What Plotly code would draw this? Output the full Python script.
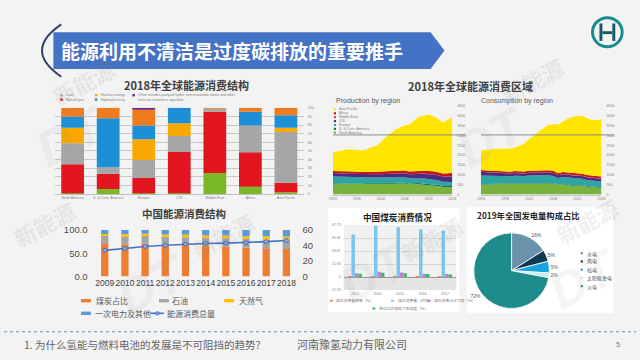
import plotly.graph_objects as go

W, H = 640, 360
def X(px): return px / W
def Y(py): return 1 - py / H
CJK = "Noto Sans CJK SC"
LAT = "Liberation Sans"

# ---------------- data ----------------
# 2018 global energy structure by region (%), bottom -> top
gl_regions = ["North America", "S. & Cent. America", "Europe", "CIS", "Middle East", "Africa", "Asia Pacific"]
gl_oil   = [1.0, 6.0, 1.0, 1.0, 24.3, 8.6, 2.0]
gl_gas   = [33.7, 17.5, 17.7, 47.9, 71.2, 39.9, 11.0]
gl_coal  = [24.3, 7.5, 20.9, 18.3, 3.5, 31.0, 59.0]
gl_nuc   = [17.9, 0.0, 23.8, 14.9, 0.0, 0.0, 4.9]
gl_hydro = [13.0, 57.0, 16.1, 17.9, 0.0, 16.0, 14.5]
gl_renew = [10.1, 12.0, 18.6, 0.0, 1.0, 4.5, 8.6]
gl_other = [0.0, 0.0, 1.9, 0.0, 0.0, 0.0, 0.0]

# Production / consumption by region, 1993-2018
area_years = list(range(1993, 2019))
area_tick_years = [1993, 1998, 2003, 2008, 2013, 2018]
p_na  = [520,530,540,545,550,555,545,540,550,540,535,545,550,555,555,560,520,525,530,495,480,480,440,380,385,380]
p_sca = [20,20,22,24,26,28,28,30,32,34,35,38,40,42,44,45,44,48,52,55,56,55,52,50,50,52]
p_eur = [380,360,350,345,335,320,300,290,295,290,290,285,280,275,275,270,260,255,265,265,250,240,235,215,210,200]
p_cis = [170,155,150,145,145,140,145,155,160,160,170,175,185,195,195,205,200,215,230,245,250,255,255,265,275,290]
p_me  = [2]*26
p_afr = [105,110,115,115,120,125,125,127,130,130,135,140,142,143,142,143,145,147,145,150,153,155,152,155,160,165]
p_ap  = [953,1023,1071,1104,1102,1080,1085,1126,1231,1294,1483,1715,1901,2068,2187,2275,2379,2558,2726,2788,2859,2793,2714,2583,2718,2831]

c_na  = [500,510,515,530,540,545,540,560,540,545,560,565,570,560,565,555,495,520,490,440,455,455,400,365,355,335]
c_sca = [18,19,20,21,22,22,22,23,23,23,24,25,26,27,28,29,28,30,32,33,34,35,34,33,33,33]
c_eur = [450,430,420,420,405,390,370,375,375,370,380,380,370,375,380,360,320,335,345,340,330,310,305,300,300,290]
c_cis = [190,170,160,150,140,135,135,135,135,135,140,140,140,140,140,145,130,140,150,155,150,145,140,145,145,150]
c_me  = [5,5,5,6,6,6,6,7,7,7,7,8,8,8,9,9,9,9,9,10,10,10,10,10,10,10]
c_afr = [80,82,84,86,88,88,88,90,92,95,98,100,102,104,106,108,105,106,100,100,102,104,100,98,100,102]
c_ap  = [1007,1044,1086,1107,1139,1144,1174,1190,1298,1425,1591,1782,2004,2166,2302,2364,2473,2560,2714,2852,2909,2931,2881,2829,2837,2900]
region_names = ["North America", "S. & Cent. America", "Europe", "CIS", "Middle East", "Africa", "Asia Pacific"]

# China energy consumption structure
cn_years = ["2009","2010","2011","2012","2013","2014","2015","2016","2017","2018"]
cn_coal  = [71.6, 69.2, 70.2, 68.5, 67.4, 65.6, 63.7, 62.0, 60.4, 59.0]
cn_oil   = [16.4, 17.4, 16.8, 17.0, 17.1, 17.4, 18.3, 18.5, 18.8, 18.9]
cn_gas   = [3.5, 4.0, 4.6, 4.8, 5.3, 5.7, 5.9, 6.2, 7.0, 7.8]
cn_other = [8.5, 9.4, 8.4, 9.7, 10.2, 11.3, 12.1, 13.3, 13.8, 14.3]
cn_total = [33.6, 36.1, 38.7, 40.2, 41.7, 42.6, 43.0, 43.6, 44.9, 46.4]

# China coal consumption
coal_years  = ["2013","2014","2015","2016","2017"]
coal_s1 = [0.4, 0.5, 0.4, 0.3, 0.3]
coal_s2 = [39.0, 47.1, 45.7, 43.9, 42.6]
coal_s3 = [3.6, 4.8, 4.2, 3.0, 2.7]
coal_s4 = [3.0, 3.9, 3.6, 2.7, 2.4]
coal_names = ["煤炭消费量增速（%）", "煤炭消费量（亿吨）", "煤炭消费占比下降（%）", "单位GDP煤耗下降幅度（%）"]
coal_ticks = [-11.93, 0, 11.93, 23.87, 35.80, 47.73]
coal_ticktext = ["-11.93", "0", "11.93", "23.87", "35.80", "47.73"]

# 2019 power generation mix
pie_labels = ["水电", "风电", "核电", "太阳能发电", "火电"]
pie_values = [16, 5, 5, 2, 72]

# ---------------- figure ----------------
fig = go.Figure()
shapes, ann = [], []

def rect(x0, y0, x1, y1, fill, layer="below", lw=0, lc=None):
    shapes.append(dict(type="rect", xref="paper", yref="paper", x0=X(x0), x1=X(x1),
                       y0=Y(y1), y1=Y(y0), fillcolor=fill, layer=layer,
                       line=dict(width=lw, color=lc or fill)))

def text(x, y, s, size, color="#404040", bold=False, xanchor="center", family=CJK, angle=0):
    ann.append(dict(x=X(x), y=Y(y), xref="paper", yref="paper",
                    text=f"<b>{s}</b>" if bold else s, showarrow=False,
                    xanchor=xanchor, yanchor="middle", textangle=angle,
                    font=dict(size=size, color=color, family=family)))

def legend_item(x, y, label, color, size, mw=3.0, mh=3.0, family=CJK, tcolor="#595959", gap=1.5):
    rect(x, y - mh / 2, x + mw, y + mh / 2, color, layer="above")
    text(x + mw + gap, y, label, size, tcolor, xanchor="left", family=family)

def ppath(points, close=True):
    s = "M " + " L ".join(f"{X(a):.5f},{Y(b):.5f}" for a, b in points)
    return s + (" Z" if close else "")

# white boxes
rect(328, 208, 461, 316, "#ffffff")
rect(469, 207, 617, 317, "#ffffff")
rect(344, 226, 458, 293, "#f1f1f1")
rect(344, 279, 458, 293, "#e4e4e4")

# title banner
shapes.append(dict(type="path", xref="paper", yref="paper", layer="below",
                   path=ppath([(50, 27), (432, 27), (446, 46), (432, 65), (50, 65)]),
                   fillcolor="#4472c4", line=dict(width=0)))
shapes.append(dict(type="path", xref="paper", yref="paper", layer="above",
                   path=f"M {X(58):.5f},{Y(19):.5f} Q {X(19):.5f},{Y(46):.5f} {X(58):.5f},{Y(73):.5f}",
                   line=dict(width=2, color="#33416b")))
text(56, 46, "能源利用不清洁是过度碳排放的重要推手", 19, "#ffffff", bold=True, xanchor="left")

# logo
shapes.append(dict(type="circle", xref="paper", yref="paper", x0=X(596), x1=X(626), y0=Y(42), y1=Y(12),
                   line=dict(width=3, color="#1b8a8f"), fillcolor="rgba(0,0,0,0)", layer="above"))
rect(603, 18, 606, 36, "#155a63", layer="above")
rect(616, 18, 619, 36, "#155a63", layer="above")
rect(606, 26, 616, 29, "#155a63", layer="above")

# watermarks
for (wx, wy) in [(80, 78), (40, 225), (222, 236), (432, 240), (590, 222), (535, 76)]:
    text(wx, wy, "新能源", 22, "rgba(130,130,130,0.14)", bold=True, angle=-28)
for (wx, wy) in [(68, 135), (150, 288), (375, 275), (495, 135), (588, 282)]:
    text(wx, wy, "<i>DT</i>", 50, "rgba(140,140,140,0.09)", bold=True, family=LAT, angle=-28)

# ---------- top-left: stacked bars ----------
gl_series = [("Oil", gl_oil, "#7ab828"), ("Natural gas", gl_gas, "#e3151f"),
             ("Coal", gl_coal, "#a6a6a6"), ("Nuclear energy", gl_nuc, "#f8a800"),
             ("Hydroelectricity", gl_hydro, "#1d8fd6"), ("Renewables", gl_renew, "#ef7b1f"),
             ("Other", gl_other, "#6b2a8c")]
base = [0.0] * len(gl_regions)
for name, vals, col in gl_series:
    fig.add_trace(go.Bar(x=gl_regions, y=vals, base=list(base), name=name, offsetgroup="gl",
                         width=0.64, marker=dict(color=col, line=dict(width=0)),
                         xaxis="x", yaxis="y", showlegend=False))
    base = [b + v for b, v in zip(base, vals)]

text(185, 82, "2018年全球能源消费结构", 11, "#404040", bold=True)
legend_item(57, 92, "Coal", "#a6a6a6", 3.5, mw=2.5, mh=2.5, family=LAT, tcolor="#808080")
legend_item(57, 96.5, "Natural gas", "#e3151f", 3.5, mw=2.5, mh=2.5, family=LAT, tcolor="#808080")
legend_item(92, 92, "Nuclear energy", "#f8a800", 3.5, mw=2.5, mh=2.5, family=LAT, tcolor="#808080")
legend_item(92, 96.5, "Hydroelectricity", "#1d8fd6", 3.5, mw=2.5, mh=2.5, family=LAT, tcolor="#808080")
legend_item(130, 92, "Other includes pumped hydro, non-renewable waste and other", "#6b2a8c", 3.5,
            mw=2.5, mh=2.5, family=LAT, tcolor="#808080")
text(134, 96.5, "fuels not elsewhere specified", 3.5, "#808080", xanchor="left", family=LAT)

# ---------- top-right: area charts ----------
area_cols = ["#79b33d", "#0f6e5e", "#2ea5a3", "#4a2c80", "#e8432e", "#c4161c", "#ffe500"]
prod = [p_na, p_sca, p_eur, p_cis, p_me, p_afr, p_ap]
cons = [c_na, c_sca, c_eur, c_cis, c_me, c_afr, c_ap]
for name, vals, col in zip(region_names, prod, area_cols):
    fig.add_trace(go.Scatter(x=area_years, y=vals, name=name, stackgroup="prod", mode="lines",
                             line=dict(width=0, color=col), fillcolor=col,
                             xaxis="x2", yaxis="y2", showlegend=False))
for name, vals, col in zip(region_names, cons, area_cols):
    fig.add_trace(go.Scatter(x=area_years, y=vals, name=name, stackgroup="cons", mode="lines",
                             line=dict(width=0, color=col), fillcolor=col,
                             xaxis="x3", yaxis="y3", showlegend=False))

text(472, 83, "2018年全球能源消费区域", 11, "#404040", bold=True)
text(334, 98, "Production by region", 7, "#595959", xanchor="left", family=LAT)
text(481, 98, "Consumption by region", 7, "#595959", xanchor="left", family=LAT)
for i, (name, col) in enumerate(zip(region_names[::-1], area_cols[::-1])):
    legend_item(334, 106.7 + i * 4.0, name, col, 3.6, mw=2.2, mh=2.2, family=LAT, tcolor="#808080", gap=1.2)
for x0, x1 in [(333, 468), (483, 618)]:
    shapes.append(dict(type="line", xref="paper", yref="paper", x0=X(x0), x1=X(x1),
                       y0=Y(133), y1=Y(133), line=dict(width=1, color="#8c8c8c"), layer="above"))

# ---------- bottom-left: China structure ----------
cn_series = [("煤炭占比", cn_coal, "#ed7d31"), ("石油", cn_oil, "#a5a5a5"),
             ("天然气", cn_gas, "#ffc000"), ("一次电力及其他", cn_other, "#5b9bd5")]
base = [0.0] * len(cn_years)
for name, vals, col in cn_series:
    fig.add_trace(go.Bar(x=cn_years, y=vals, base=list(base), name=name, offsetgroup="cn",
                         width=0.36, marker=dict(color=col, line=dict(width=0)),
                         xaxis="x4", yaxis="y4", showlegend=False))
    base = [b + v for b, v in zip(base, vals)]
fig.add_trace(go.Scatter(x=cn_years, y=cn_total, name="能源消费总量", mode="lines+markers",
                         line=dict(color="#4472c4", width=1.6),
                         marker=dict(size=4, color="#8faadc", line=dict(width=1, color="#4472c4")),
                         xaxis="x4", yaxis="y5", showlegend=False))

text(182, 214, "中国能源消费结构", 10.5, "#404040", bold=True)
legend_item(78, 304, "煤炭占比", "#ed7d31", 8, mw=10, mh=3.5, gap=3)
legend_item(157, 304, "石油", "#a5a5a5", 8, mw=10, mh=3.5, gap=1.5)
legend_item(223, 304, "天然气", "#ffc000", 8, mw=10, mh=3.5, gap=3)
legend_item(78, 317, "一次电力及其他", "#5b9bd5", 8, mw=10, mh=3.5, gap=2.5)
shapes.append(dict(type="line", xref="paper", yref="paper", x0=X(148.5), x1=X(162), y0=Y(317), y1=Y(317),
                   line=dict(width=1.6, color="#4472c4"), layer="above"))
shapes.append(dict(type="circle", xref="paper", yref="paper", x0=X(153.6), x1=X(157), y0=Y(318.7), y1=Y(315.3),
                   fillcolor="#8faadc", line=dict(width=1, color="#4472c4"), layer="above"))
text(163.5, 317, "能源消费总量", 8, "#595959", xanchor="left")

# ---------- bottom-middle: coal consumption ----------
coal_cols = ["#f4845f", "#7cc5ee", "#c57fd9", "#2fc25b"]
for name, vals, col in zip(coal_names, [coal_s1, coal_s2, coal_s3, coal_s4], coal_cols):
    fig.add_trace(go.Bar(x=coal_years, y=vals, name=name, marker=dict(color=col, line=dict(width=0)),
                         xaxis="x5", yaxis="y6", showlegend=False))
text(398, 218, "中国煤炭消费情况", 8.6, "#1a1a1a", bold=True)
legend_item(330, 304, coal_names[0], coal_cols[0], 3.8, mw=3, mh=2, tcolor="#808080")
legend_item(392, 304, coal_names[1], coal_cols[1], 3.8, mw=3, mh=2, tcolor="#808080")
legend_item(429, 304, coal_names[2], coal_cols[2], 3.8, mw=3, mh=2, tcolor="#808080")
legend_item(373, 312, coal_names[3], coal_cols[3], 3.8, mw=3, mh=2, tcolor="#808080")

# ---------- bottom-right: pie ----------
pie_cols = ["#6a93aa", "#0d3a50", "#1aa3dd", "#c5e8f5", "#208b8b"]
fig.add_trace(go.Pie(labels=pie_labels, values=pie_values, sort=False, direction="clockwise",
                     marker=dict(colors=pie_cols, line=dict(color="#ffffff", width=0.8)),
                     texttemplate="%{value}%", textposition="outside",
                     textfont=dict(size=5, color="#595959", family=LAT),
                     domain=dict(x=[X(475), X(553)], y=[Y(312), Y(234)]),
                     showlegend=False, hoverinfo="label+percent"))
text(531, 216, "2019年全国发电量构成占比", 8.3, "#262626", bold=True)
for i, (lab, col) in enumerate(zip(pie_labels, pie_cols)):
    legend_item(584, 255 + i * 8.5, lab, col, 5, mw=2.2, mh=2.2, tcolor="#595959", gap=2)

# ---------- footer ----------
shapes.append(dict(type="line", xref="paper", yref="paper", x0=0, x1=1, y0=Y(336), y1=Y(336),
                   line=dict(width=1.2, color="#6b8cc7", dash="dot"), layer="above"))
text(18, 349, "1. 为什么氢能与燃料电池的发展是不可阻挡的趋势?", 10.5, "#666666", xanchor="left")
text(295, 349, "河南豫氢动力有限公司", 11, "#666666", xanchor="left")
text(622, 349, "5", 7.5, "#808080", family=LAT)

tiny = dict(size=3.6, color="#808080", family=LAT)
mid = dict(size=9.5, color="#4d4d4d", family=LAT)
fig.update_layout(
    width=W, height=H, margin=dict(l=0, r=0, t=0, b=0),
    paper_bgcolor="#f3f3f3", plot_bgcolor="rgba(0,0,0,0)",
    barmode="group", bargap=0.38, bargroupgap=0.0,
    font=dict(family=CJK),
    shapes=shapes, annotations=ann,
    xaxis=dict(domain=[X(51.5), X(303.5)], anchor="y", type="category", range=[-0.5, 6.5],
               tickfont=tiny, tickangle=0, showgrid=False, showline=True, linecolor="#bfbfbf",
               linewidth=0.6, ticks=""),
    yaxis=dict(domain=[Y(194), Y(105)], anchor="x", range=[0, 100], side="right",
               tickvals=list(range(0, 101, 10)), tickfont=tiny, showgrid=True,
               gridcolor="#c8c8c8", gridwidth=0.6, zeroline=False, ticklabelstandoff=3),
    xaxis2=dict(domain=[X(333), X(454)], anchor="y2", range=[1993, 2018], tickvals=area_tick_years,
                tickfont=tiny, tickangle=0, showgrid=False, showline=True, linecolor="#bfbfbf", ticks=""),
    yaxis2=dict(domain=[Y(194.5), Y(103)], anchor="x2", range=[0, 4500], side="right", dtick=500,
                tickfont=tiny, showgrid=False, zeroline=False, ticklabelstandoff=4),
    xaxis3=dict(domain=[X(483), X(605)], anchor="y3", range=[1993, 2018], tickvals=area_tick_years,
                tickfont=tiny, tickangle=0, showgrid=False, showline=True, linecolor="#bfbfbf", ticks=""),
    yaxis3=dict(domain=[Y(194.5), Y(103)], anchor="x3", range=[0, 4500], side="right", dtick=500,
                tickfont=tiny, showgrid=False, zeroline=False, ticklabelstandoff=4),
    xaxis4=dict(domain=[X(91.8), X(296.2)], anchor="y4", type="category", range=[-0.5, 9.5],
                tickfont=dict(size=8.5, color="#404040", family=LAT), tickangle=0,
                showgrid=False, showline=False, ticks=""),
    yaxis4=dict(domain=[Y(279), Y(231)], anchor="x4", range=[0, 100], tickvals=[0, 50, 100],
                tickformat=".1f", ticksuffix="%", tickfont=mid,
                showgrid=False, zeroline=False, ticklabelstandoff=6),
    yaxis5=dict(overlaying="y4", anchor="x4", side="right", range=[0, 60], tickvals=[0, 20, 40, 60],
                tickfont=mid, showgrid=False, zeroline=False, ticklabelstandoff=5),
    xaxis5=dict(domain=[X(344), X(458)], anchor="y6", type="category", range=[-0.5, 4.5],
                tickfont=tiny, tickangle=0, showgrid=False, ticks=""),
    yaxis6=dict(domain=[Y(293), Y(226)], anchor="x5", range=[-11.93, 47.73], tickvals=coal_ticks,
                ticktext=coal_ticktext, tickfont=tiny, showgrid=True, gridcolor="#d6d6d6",
                gridwidth=0.6, zeroline=True, zerolinecolor="#9a9a9a", zerolinewidth=0.8,
                ticklabelstandoff=2),
)

fig.write_html("out.html", config={"displayModeBar": False},
               post_script="document.body.style.margin='0px';")
